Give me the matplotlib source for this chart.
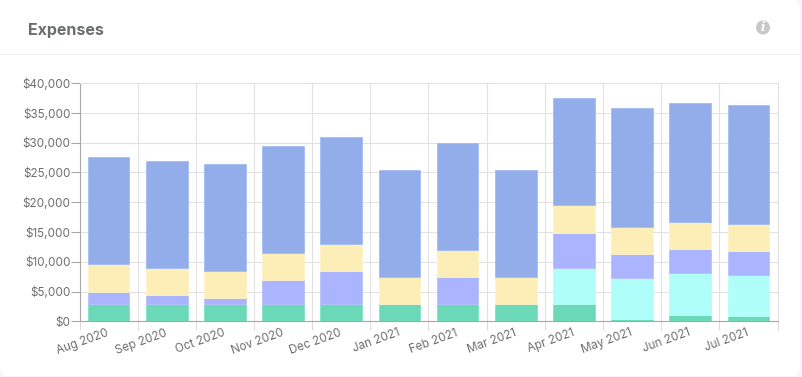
import numpy as np
import matplotlib
matplotlib.use("Agg")
import matplotlib.pyplot as plt
from matplotlib.patches import FancyBboxPatch, Circle, Rectangle

months = ["Aug 2020", "Sep 2020", "Oct 2020", "Nov 2020", "Dec 2020", "Jan 2021",
          "Feb 2021", "Mar 2021", "Apr 2021", "May 2021", "Jun 2021", "Jul 2021"]
# stack values, bottom to top
green = [2900, 2900, 2900, 2900, 2900, 2900, 2900, 2900, 2900, 400, 1000, 900]
cyan = [0, 0, 0, 0, 0, 0, 0, 0, 6000, 6900, 7100, 6900]
purple = [2100, 1500, 1000, 4000, 5600, 0, 4500, 0, 6000, 4000, 4000, 4000]
yellow = [4600, 4500, 4500, 4600, 4500, 4500, 4600, 4500, 4600, 4600, 4600, 4600]
blue = [18000, 18000, 18000, 17900, 18000, 18000, 18000, 18000, 17900, 19900, 19900, 19900]

series = [green, cyan, purple, yellow, blue]
colors = ["#6bd9b8", "#b0fef9", "#abb4fe", "#fdeeb7", "#92adea"]
edges = ["#7fe3c5", "#bafffa", "#b8c0ff", "#fdf2c8", "#a4bcf2"]
yticks = [0, 5000, 10000, 15000, 20000, 25000, 30000, 35000, 40000]

W, H = 802, 377
plt.rcParams["font.family"] = ["Inter", "DejaVu Sans"]
fig = plt.figure(figsize=(W / 100, H / 100), dpi=100, facecolor="#f5f5fb")

# card in pixel coordinates
bg = fig.add_axes([0, 0, 1, 1])
bg.set_xlim(0, W)
bg.set_ylim(H, 0)
bg.axis("off")
bg.add_patch(FancyBboxPatch((0, 0), 800, 376, boxstyle="round,pad=0,rounding_size=8",
                            fc="white", ec="none"))
bg.add_patch(Rectangle((0, 0), 12, 12, fc="white", ec="none"))  # top left corner is square
bg.add_patch(Rectangle((0, 53.5), 800, 1.5, fc="#f0f0f3", ec="none"))
bg.text(28, 30, "Expenses", fontsize=11.5, fontweight="bold", color="#6b6e6e", va="center", ha="left")
bg.add_patch(Circle((763, 27.5), 7, fc="#c8c8c8", ec="none"))
bg.text(763, 27.8, "i", fontsize=8.5, fontweight="bold", style="italic", color="white",
        family="DejaVu Serif", ha="center", va="center")

left, right, top, bottom = 79.5, 777.5, 83, 321.3
ax = fig.add_axes([left / W, 1 - bottom / H, (right - left) / W, (bottom - top) / H])
ax.patch.set_alpha(0)

x = np.arange(len(months))
base = np.zeros(len(months))
for vals, c, e in zip(series, colors, edges):
    vals = np.array(vals)
    keep = vals > 0
    ax.bar(x[keep], vals[keep], width=0.715, bottom=base[keep], color=c, edgecolor=e, linewidth=0.6, zorder=3)
    base = base + vals

ax.set_xlim(-0.5, len(months) - 0.5)
ax.set_ylim(0, 40000)
ax.set_yticks(yticks)
ax.set_yticklabels(["${:,}".format(v) for v in yticks], fontsize=8.4, color="#6e6e6e")
ax.set_xticks(np.append(x - 0.5, len(months) - 0.5))
ax.set_xticklabels([""] * (len(months) + 1))
ax.grid(True, color="#e2e2e2", linewidth=0.8, zorder=0)
ax.set_axisbelow(True)
ax.tick_params(axis="x", length=6.5, color="#dcdcdc", width=0.8)
ax.tick_params(axis="y", length=6.5, color="#a8a8a8", width=0.8, pad=0)
for s in ["top", "right"]:
    ax.spines[s].set_color("#e2e2e2")
    ax.spines[s].set_linewidth(0.8)
for s in ["left", "bottom"]:
    ax.spines[s].set_color("#a8a8a8")
    ax.spines[s].set_linewidth(0.8)

# rotated labels hang off the middle of each band
for i, m in enumerate(months):
    ax.annotate(m, xy=(i, 0), xycoords=("data", "axes fraction"), xytext=(-1.5, -4),
                textcoords="offset points", rotation=20, ha="right", va="top",
                rotation_mode="anchor", fontsize=8.4, color="#6e6e6e")

fig.savefig("out.png", dpi=100, facecolor=fig.get_facecolor())
